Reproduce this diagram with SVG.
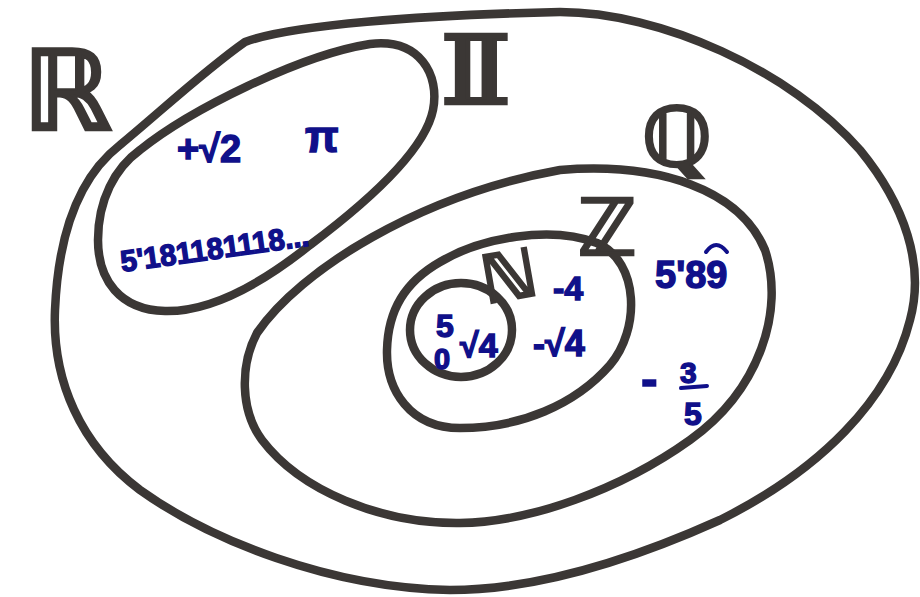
<svg xmlns="http://www.w3.org/2000/svg" width="920" height="597" viewBox="0 0 920 597">
<style>
.set{fill:none;stroke:#3b3735;stroke-width:8.5;stroke-linecap:round;stroke-linejoin:round}
.lbl{font-family:"DejaVu Sans",sans-serif;font-weight:bold;fill:#3b3735;stroke:#3b3735;stroke-width:2.5}
.num{font-family:"Liberation Sans","DejaVu Sans",sans-serif;font-weight:bold;fill:#10108a;stroke:#10108a;stroke-width:1.4}
.mark{fill:none;stroke:#10108a;stroke-width:4;stroke-linecap:round}
</style>
<rect width="920" height="597" fill="#ffffff"/>
<g id="set-R">
<path class="set" d="M245,42 C290,25 420,15 560,12 C660,12 790,70 860,150 C905,205 925,265 910,320 C890,400 820,470 720,520 C620,565 530,590 450,590 C330,588 210,540 140,490 C80,445 52,380 55,310 C58,240 75,180 120,145 C160,112 205,70 245,42 Z"/>
<text class="lbl" x="22" y="130" font-size="112">ℝ</text>
</g>
<g id="set-I">
<path class="set" d="M140,150 C190,110 300,55 370,44 C420,38 440,75 433,110 C425,150 370,200 310,245 C260,285 210,312 165,311 C120,310 98,280 98,240 C98,200 115,168 140,150 Z"/>
<text class="lbl" x="434" y="104" font-size="96" transform="translate(434 0) scale(1.9 1) translate(-434 0)">𝕀</text>
<text class="num" x="177" y="162" font-size="38">+√2</text>
<text class="num" x="305" y="152" font-size="44">π</text>
<text class="num" x="122" y="272" font-size="30" textLength="190" lengthAdjust="spacingAndGlyphs" transform="rotate(-8 122 272)">5'181181118...</text>
</g>
<g id="set-Q">
<path class="set" d="M257,333 C300,270 420,195 560,170 C660,162 740,190 765,250 C785,310 760,390 690,440 C620,490 530,522 460,523 C380,524 300,490 262,440 C240,410 240,365 257,333 Z"/>
<text class="lbl" x="642" y="166" font-size="82">ℚ</text>
<text class="num" x="655" y="288" font-size="38">5'89</text>
<path class="mark" d="M706,252 Q716,238 727,252"/>
<text class="num" x="641" y="396" font-size="50">-</text>
<text class="num" x="680" y="383" font-size="30">3</text>
<path class="mark" d="M681,388 L707,386"/>
<text class="num" x="684" y="425" font-size="32">5</text>
</g>
<g id="set-Z">
<path class="set" d="M440,262 C480,238 550,225 597,243 C640,262 640,330 610,365 C575,405 520,428 460,428 C410,428 386,390 387,350 C388,310 405,282 440,262 Z"/>
<text class="lbl" x="578" y="255" font-size="78">ℤ</text>
<text class="num" x="553" y="300" font-size="34">-4</text>
<text class="num" x="533" y="356" font-size="36">-√4</text>
</g>
<g id="set-N">
<ellipse class="set" cx="461" cy="330" rx="51" ry="47"/>
<text class="lbl" x="481" y="300" font-size="66" transform="rotate(-10 505 275)">ℕ</text>
<text class="num" x="436" y="337" font-size="32">5</text>
<text class="num" x="434" y="369" font-size="29">0</text>
<text class="num" x="460" y="357" font-size="34">√4</text>
</g>
<g id="connectors"/>
</svg>
